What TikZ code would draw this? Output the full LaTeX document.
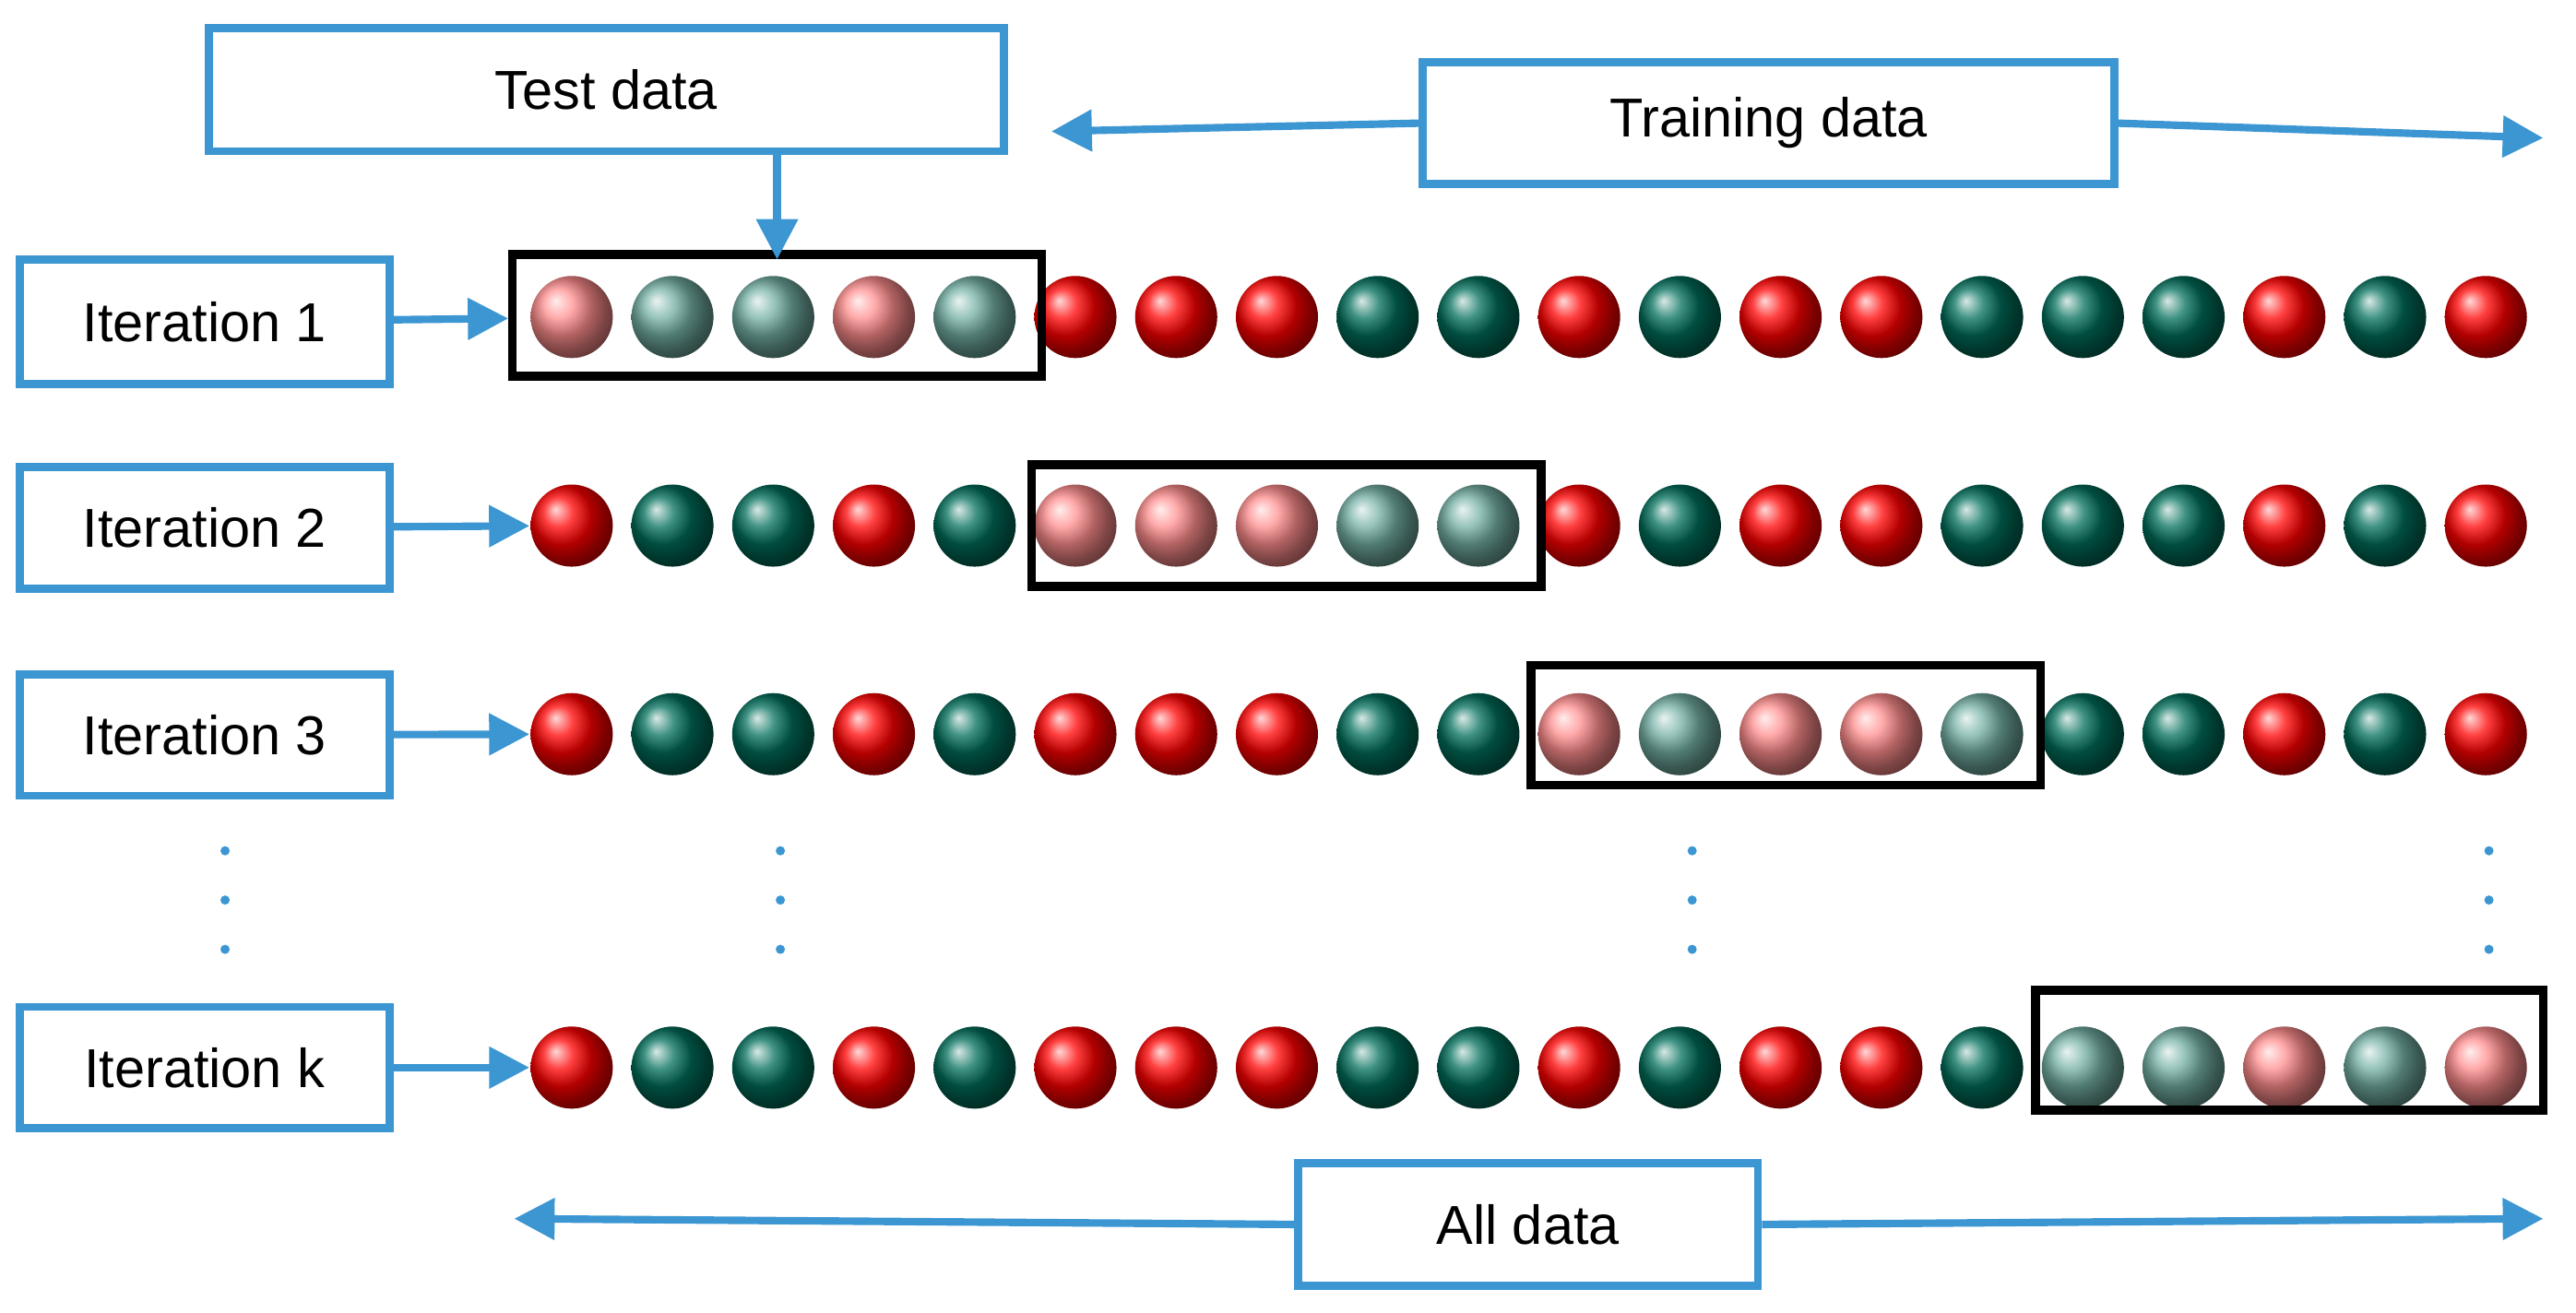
\documentclass[tikz,border=0pt]{standalone}
\usepackage{fontspec}
\setmainfont{Liberation Sans}
\usetikzlibrary{arrows.meta}
\usetikzlibrary{positioning}
\definecolor{boxblue}{RGB}{60,150,210}
\definecolor{dgreen}{RGB}{0,110,90}
\tikzstyle{tag} = [rectangle, draw=boxblue, line width=1.4pt, fill=white, text centered, font=\fontsize{9.5}{11}\selectfont]
\tikzstyle{fold} = [rectangle, draw=black, line width=1.5pt]
\tikzstyle{pointer} = [draw=boxblue, line width=1.3pt, -{Triangle[length=7pt,width=7pt]}]
\tikzstyle{ball} = [circle, minimum size=0.5cm, inner sep=0pt]
\tikzstyle{vdot} = [circle, fill=boxblue, inner sep=0pt, minimum size=1.6pt]
\def\redtag{r}
\begin{document}
\begin{tikzpicture}
    \useasboundingbox (0,0) rectangle (15.68,-7.99);

    % iteration labels
    \node (it1) [tag, minimum width=2.25cm, minimum height=0.76cm] at (1.245,-1.96) {Iteration 1};
    \node (it2) [tag, minimum width=2.25cm, minimum height=0.74cm] at (1.245,-3.215) {Iteration 2};
    \node (it3) [tag, minimum width=2.25cm, minimum height=0.74cm] at (1.245,-4.475) {Iteration 3};
    \node (itk) [tag, minimum width=2.25cm, minimum height=0.74cm] at (1.245,-6.50) {Iteration k};

    % balls: one fixed sequence, test block lighter
    \def\seq{1/r,2/g,3/g,4/r,5/g,6/r,7/r,8/r,9/g,10/g,11/r,12/g,13/r,14/r,15/g,16/g,17/g,18/r,19/g,20/r}
    \foreach \row/\y/\lo in {1/-1.93/1, 2/-3.20/6, 3/-4.47/11, k/-6.50/16} {
        \foreach \i/\c in \seq {
            \pgfmathtruncatemacro{\hi}{\lo+4}
            \ifnum\i<\lo \def\lt{0}\else\ifnum\i>\hi \def\lt{0}\else\def\lt{1}\fi\fi
            \edef\cc{\c}
            \ifx\cc\redtag
                \ifnum\lt=1 \def\bc{red!45!white}\else\def\bc{red}\fi
            \else
                \ifnum\lt=1 \def\bc{dgreen!55!white}\else\def\bc{dgreen}\fi
            \fi
            \node (b\row-\i) [ball, ball color=\bc] at ({3.48+(\i-1)*0.6132},\y) {};
        }
    }

    % test folds
    \node (fold1) [fold, minimum width=3.22cm, minimum height=0.74cm] at (4.73,-1.92) {};
    \node (fold2) [fold, minimum width=3.10cm, minimum height=0.74cm] at (7.83,-3.20) {};
    \node (fold3) [fold, minimum width=3.10cm, minimum height=0.73cm] at (10.87,-4.415) {};
    \node (foldk) [fold, minimum width=3.09cm, minimum height=0.73cm] at (13.935,-6.395) {};

    \draw [pointer] (it1) -- (fold1);
    \draw [pointer] (it2) -- (b2-1);
    \draw [pointer] (it3) -- (b3-1);
    \draw [pointer] (itk) -- (bk-1);

    % top and bottom labels
    \node (test) [tag, minimum width=4.84cm, minimum height=0.75cm] at (3.69,-0.545) {Test data};
    \node (train) [tag, minimum width=4.21cm, minimum height=0.74cm] at (10.765,-0.75) {Training data};
    \node (all) [tag, minimum width=2.80cm, minimum height=0.75cm] at (9.30,-7.455) {All data};

    \coordinate (tl) at (6.40,-0.80);
    \coordinate (tr) at (15.48,-0.84);
    \coordinate (al) at (3.13,-7.42);
    \coordinate (ar) at (15.48,-7.42);
    \coordinate (tt) at (4.73,-1.58);

    \draw [pointer] (test.south -| tt) -- (tt);
    \draw [pointer] (train.west) -- (tl);
    \draw [pointer] (train.east) -- (tr);
    \draw [pointer] (all.west) -- (al);
    \draw [pointer] (all.east) -- (ar);

    % continuation dots
    \foreach \x in {1.37, 4.75, 10.30, 15.15} {
        \foreach \y in {-5.18, -5.48, -5.78} {
            \node [vdot] at (\x,\y) {};
        }
    }

\end{tikzpicture}
\end{document}
